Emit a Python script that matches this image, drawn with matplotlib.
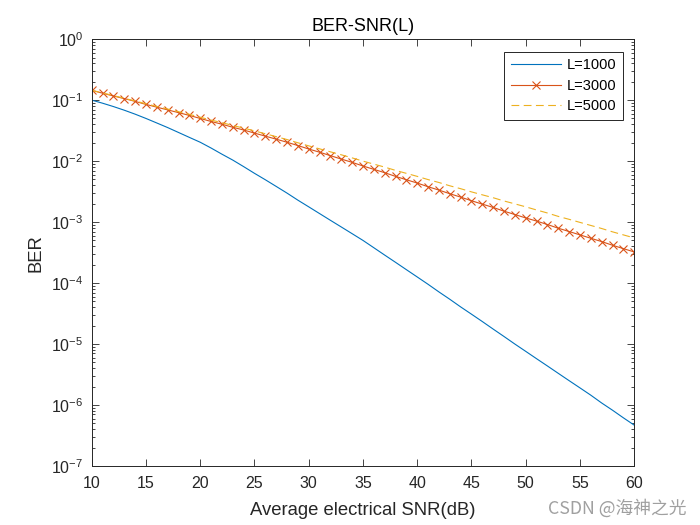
import matplotlib
matplotlib.use("Agg")
import matplotlib.pyplot as plt
from matplotlib.ticker import LogLocator, NullFormatter, FixedLocator

plt.rcParams['font.family'] = ['Liberation Sans', 'DejaVu Sans']

snr = list(range(10, 61))

ber_L1000 = [1.00e-1, 8.91e-2, 7.85e-2, 6.84e-2, 5.89e-2, 5.01e-2, 4.22e-2, 3.55e-2, 2.95e-2, 2.45e-2,
             2.04e-2, 1.64e-2, 1.30e-2, 1.04e-2, 8.13e-3, 6.31e-3, 4.95e-3, 3.85e-3, 2.99e-3, 2.29e-3,
             1.78e-3, 1.38e-3, 1.07e-3, 8.32e-4, 6.46e-4, 5.01e-4, 3.80e-4, 2.88e-4, 2.19e-4, 1.66e-4,
             1.26e-4, 9.55e-5, 7.16e-5, 5.43e-5, 4.07e-5, 3.09e-5, 2.34e-5, 1.76e-5, 1.33e-5, 1.00e-5,
             7.59e-6, 5.75e-6, 4.37e-6, 3.31e-6, 2.51e-6, 1.91e-6, 1.45e-6, 1.08e-6, 8.22e-7, 6.17e-7,
             4.68e-7]

ber_L3000 = [1.45e-1, 1.30e-1, 1.17e-1, 1.06e-1, 9.55e-2, 8.51e-2, 7.67e-2, 6.92e-2, 6.24e-2, 5.62e-2,
             5.01e-2, 4.47e-2, 4.03e-2, 3.59e-2, 3.24e-2, 2.88e-2, 2.57e-2, 2.29e-2, 2.04e-2, 1.80e-2,
             1.58e-2, 1.40e-2, 1.23e-2, 1.08e-2, 9.55e-3, 8.32e-3, 7.33e-3, 6.46e-3, 5.62e-3, 4.95e-3,
             4.37e-3, 3.80e-3, 3.35e-3, 2.92e-3, 2.57e-3, 2.24e-3, 1.97e-3, 1.74e-3, 1.51e-3, 1.33e-3,
             1.17e-3, 1.04e-3, 9.12e-4, 7.94e-4, 7.00e-4, 6.17e-4, 5.43e-4, 4.79e-4, 4.17e-4, 3.67e-4,
             3.24e-4]

ber_L5000 = [1.45e-1, 1.31e-1, 1.19e-1, 1.07e-1, 9.72e-2, 8.71e-2, 7.89e-2, 7.14e-2, 6.47e-2, 5.86e-2,
             5.25e-2, 4.71e-2, 4.28e-2, 3.84e-2, 3.48e-2, 3.13e-2, 2.81e-2, 2.52e-2, 2.26e-2, 2.00e-2,
             1.78e-2, 1.59e-2, 1.42e-2, 1.27e-2, 1.13e-2, 1.00e-2, 8.93e-3, 7.98e-3, 7.05e-3, 6.30e-3,
             5.62e-3, 4.98e-3, 4.46e-3, 3.94e-3, 3.53e-3, 3.13e-3, 2.80e-3, 2.51e-3, 2.22e-3, 1.99e-3,
             1.78e-3, 1.58e-3, 1.41e-3, 1.24e-3, 1.11e-3, 9.89e-4, 8.81e-4, 7.85e-4, 6.92e-4, 6.17e-4,
             5.50e-4]

labels = ['L=1000', 'L=3000', 'L=5000']
xticks = [10, 15, 20, 25, 30, 35, 40, 45, 50, 55, 60]

fig = plt.figure(figsize=(7, 5.25), dpi=100)
ax = fig.add_axes([0.131, 0.1124, 0.775, 0.813])

ax.semilogy(snr, ber_L1000, '-', color='#0072BD', lw=0.8, label=labels[0])
ax.semilogy(snr, ber_L3000, '-x', color='#D95319', lw=0.8, ms=5.5, mew=0.8, label=labels[1])
ax.semilogy(snr, ber_L5000, '--', color='#EDB120', lw=0.8, dashes=(7, 4), label=labels[2])

ax.set_xlim(10, 60)
ax.set_ylim(1e-7, 1e0)
ax.xaxis.set_major_locator(FixedLocator(xticks))
ax.yaxis.set_major_locator(LogLocator(base=10, numticks=20))
ax.yaxis.set_minor_locator(LogLocator(base=10, subs=range(2, 10), numticks=20))
ax.yaxis.set_minor_formatter(NullFormatter())

ax.tick_params(which='both', direction='in', top=True, right=True, colors='#262626',
               labelsize=11.5, width=0.6)
ax.tick_params(axis='x', which='major', pad=7)
ax.tick_params(axis='y', which='major', pad=6)
ax.tick_params(which='major', length=5)
ax.tick_params(which='minor', length=2.5)
for s in ax.spines.values():
    s.set_linewidth(0.7)
    s.set_color('#262626')

ax.set_title('BER-SNR(L)', fontsize=13, color='#000000', pad=6)
ax.set_xlabel('Average electrical SNR(dB)', fontsize=13.3, color='#262626', labelpad=8)
ax.set_ylabel('BER', fontsize=13.3, color='#262626', labelpad=5)

leg = ax.legend(loc='upper right', fontsize=10.5, frameon=True, fancybox=False,
                edgecolor='#262626', framealpha=1, handlelength=3.4, borderpad=0.45,
                labelspacing=0.45, handletextpad=0.4, borderaxespad=0,
                bbox_to_anchor=(0.9785, 0.9705))
leg.get_frame().set_linewidth(0.7)

fig.text(0.98, 0.013, 'CSDN @海神之光', ha='right', va='bottom', fontsize=12.8,
         color='#a0a0a0', family=['Noto Sans CJK SC', 'DejaVu Sans'])

fig.savefig('out.png', dpi=100, facecolor='white')
